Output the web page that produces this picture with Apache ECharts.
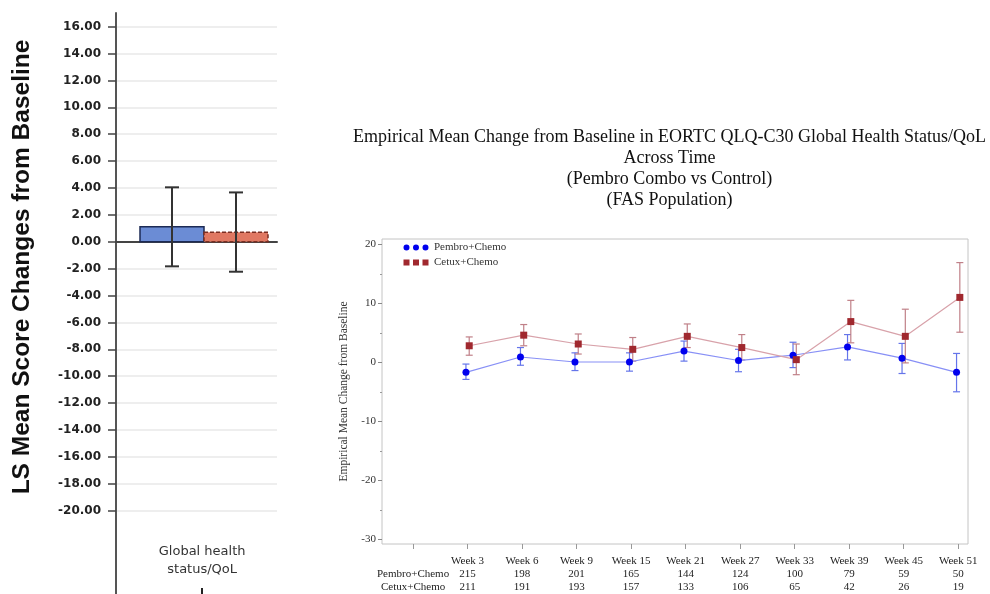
<!DOCTYPE html>
<html><head><meta charset="utf-8">
<script src="https://cdn.jsdelivr.net/npm/echarts@6/dist/echarts.min.js"></script>
<style>html,body{margin:0;padding:0;background:#fff}#c{width:990px;height:594px}</style>
</head><body><div id="c"></div>
<script>
// ---------- Left panel: LS mean change ----------
const lsCategory = 'Global health\nstatus/QoL';
const lsGroups = ['Pembro+Chemo', 'Cetux+Chemo'];
const lsMean = [1.12, 0.70];
const lsLower = [-1.83, -2.23];
const lsUpper = [4.05, 3.67];
const lsTicks = [16, 14, 12, 10, 8, 6, 4, 2, 0, -2, -4, -6, -8, -10, -12, -14, -16, -18, -20];

// ---------- Right panel: empirical mean change across time ----------
const weeks = ['Week 3', 'Week 6', 'Week 9', 'Week 15', 'Week 21', 'Week 27', 'Week 33', 'Week 39', 'Week 45', 'Week 51'];
const armNames = ['Pembro+Chemo', 'Cetux+Chemo'];
const pembroMean  = [-1.7, 0.9, 0.05, 0.05, 1.9, 0.3, 1.2, 2.6, 0.7, -1.7];
const pembroLower = [-2.9, -0.5, -1.4, -1.5, 0.2, -1.6, -0.9, 0.4, -1.9, -5.0];
const pembroUpper = [-0.3, 2.5, 1.6, 1.6, 3.6, 2.2, 3.4, 4.7, 3.2, 1.5];
const cetuxMean   = [2.8, 4.6, 3.1, 2.2, 4.4, 2.5, 0.45, 6.9, 4.4, 11.0];
const cetuxLower  = [1.2, 2.8, 1.4, 0.2, 2.5, 0.4, -2.1, 3.3, -0.1, 5.1];
const cetuxUpper  = [4.3, 6.4, 4.8, 4.2, 6.5, 4.7, 3.1, 10.5, 9.0, 16.9];
const pembroN = [215, 198, 201, 165, 144, 124, 100, 79, 59, 50];
const cetuxN  = [211, 191, 193, 157, 133, 106, 65, 42, 26, 19];
const rightYTicks = [20, 10, 0, -10, -20, -30];
const rightYMinor = [15, 5, -5, -15, -25];
const titleLines = [
  'Empirical Mean Change from Baseline in EORTC QLQ-C30 Global Health Status/QoL',
  'Across Time',
  '(Pembro Combo vs Control)',
  '(FAS Population)'
];

// ---------- build ----------
const BAR_CENTER = 0.5466;   // centre of the bar pair on the left x axis (0..1)
const BAR_W = 64;            // px
const LABEL_POS = 0.535;
const ARM_OFF = 0.03;        // small horizontal jitter between arms
const weekPos = weeks.map((w, i) => i + 1);
const tickPos = [0].concat(weekPos);

const lsData = lsMean.map((m, i) => [i, m, lsLower[i], lsUpper[i]]);
const barFill = ['#6b8cd5', '#e07862'];
const barStroke = ['#1c2a55', '#7a2e22'];

function errData(mean, lo, hi, off) {
  return mean.map((m, i) => [weekPos[i] + off, lo[i], hi[i]]);
}
function errRenderer(color) {
  return function (params, api) {
    const x = api.value(0);
    const p1 = api.coord([x, api.value(1)]);
    const p2 = api.coord([x, api.value(2)]);
    const w = 3.5;
    const st = { stroke: color, lineWidth: 1.2 };
    return { type: 'group', children: [
      { type: 'line', shape: { x1: p1[0], y1: p1[1], x2: p2[0], y2: p2[1] }, style: st },
      { type: 'line', shape: { x1: p1[0] - w, y1: p1[1], x2: p1[0] + w, y2: p1[1] }, style: st },
      { type: 'line', shape: { x1: p2[0] - w, y1: p2[1], x2: p2[0] + w, y2: p2[1] }, style: st }
    ]};
  };
}

const dotsIcon = 'path://M0.5,3.5a3,3 0 1,0 6,0a3,3 0 1,0 -6,0Z M10,3.5a3,3 0 1,0 6,0a3,3 0 1,0 -6,0Z M19.5,3.5a3,3 0 1,0 6,0a3,3 0 1,0 -6,0Z M0,0h0.01v7h-0.01Z M26,0h0.01v7h-0.01Z';
const squaresIcon = 'path://M0.5,0.5h6v6h-6Z M10,0.5h6v6h-6Z M19.5,0.5h6v6h-6Z M0,0h0.01v7h-0.01Z M26,0h0.01v7h-0.01Z';

const serif = 'Liberation Serif';

const chart = echarts.init(document.getElementById('c'));
chart.setOption({
  animation: false,
  backgroundColor: '#fff',
  title: {
    text: titleLines.join('\n'),
    left: 669.5, top: 127, textAlign: 'center', padding: 0,
    textStyle: { fontFamily: serif, fontSize: 18, fontWeight: 'normal', color: '#111', lineHeight: 21 }
  },
  legend: {
    orient: 'vertical', left: 403, top: 242, padding: 0, itemGap: 4,
    itemWidth: 26, itemHeight: 7,
    data: [{ name: armNames[0], icon: dotsIcon }, { name: armNames[1], icon: squaresIcon }],
    textStyle: { fontFamily: serif, fontSize: 11, color: '#333' }
  },
  grid: [
    { left: 116, top: 13, width: 161, height: 581 },
    { left: 382, top: 239, width: 586, height: 305, show: true, borderColor: '#c4c4c4', borderWidth: 1 }
  ],
  xAxis: [
    { gridIndex: 0, type: 'value', min: 0, max: 1, position: 'bottom',
      axisLine: { show: true, onZero: true, lineStyle: { color: '#444', width: 2 } },
      axisTick: { show: false }, axisLabel: { show: false }, splitLine: { show: false } },
    { gridIndex: 1, type: 'value', min: -0.57, max: 10.18, position: 'bottom',
      axisLine: { show: false, onZero: false }, splitLine: { show: false },
      axisTick: { show: true, customValues: tickPos, length: 5, lineStyle: { color: '#999' } },
      axisLabel: { customValues: tickPos, margin: 11, fontFamily: serif, fontSize: 11, lineHeight: 13, color: '#222',
        formatter: function (v) {
          const i = Math.round(v);
          if (i === 0) return '\n' + armNames[0] + '\n' + armNames[1];
          return weeks[i - 1] + '\n' + pembroN[i - 1] + '\n' + cetuxN[i - 1];
        } } },
    { gridIndex: 0, type: 'value', min: 0, max: 1, position: 'bottom',
      axisLine: { show: false, onZero: false }, splitLine: { show: false },
      axisTick: { show: true, inside: true, length: 6, customValues: [LABEL_POS], lineStyle: { color: '#222', width: 2 } },
      axisLabel: { inside: true, customValues: [LABEL_POS], margin: 15, lineHeight: 18,
        fontFamily: 'DejaVu Sans', fontSize: 13, color: '#333', formatter: function () { return lsCategory; } } }
  ],
  yAxis: [
    { gridIndex: 0, type: 'value', min: -26.21, max: 17.02,
      axisLine: { show: true, onZero: false, lineStyle: { color: '#555', width: 2 } },
      axisTick: { show: true, customValues: lsTicks, length: 8, lineStyle: { color: '#444', width: 1.5 } },
      axisLabel: { customValues: lsTicks, margin: 15, fontFamily: 'DejaVu Sans', fontWeight: 'bold', fontSize: 12, color: '#222',
        formatter: function (v) { return v.toFixed(2); } },
      splitLine: { show: true, lineStyle: { color: '#e8e8e8', width: 1.5 } },
      name: 'LS Mean Score Changes from Baseline', nameLocation: 'middle', nameGap: 81,
      nameTextStyle: { fontFamily: 'Liberation Sans', fontWeight: 'bold', fontSize: 24.5, color: '#111', padding: [0, 0, 0, 73] } },
    { gridIndex: 1, type: 'value', min: -30.8, max: 20.9, position: 'left',
      axisLine: { show: false, onZero: false }, splitLine: { show: false },
      axisTick: { show: true, customValues: rightYTicks, length: 4, lineStyle: { color: '#888' } },
      axisLabel: { customValues: rightYTicks, margin: 6, fontFamily: serif, fontSize: 11, color: '#333' },
      name: 'Empirical Mean Change from Baseline', nameLocation: 'middle', nameGap: 30,
      nameTextStyle: { fontFamily: serif, fontSize: 11.5, color: '#333' } },
    { gridIndex: 1, type: 'value', min: -30.8, max: 20.9, position: 'left',
      axisLine: { show: false, onZero: false }, splitLine: { show: false },
      axisTick: { show: true, customValues: rightYMinor, length: 2, lineStyle: { color: '#999' } },
      axisLabel: { show: false } }
  ],
  series: [
    { type: 'custom', name: 'LS', xAxisIndex: 0, yAxisIndex: 0, data: lsData, z: 3,
      encode: { x: 0, y: [1, 2, 3] },
      renderItem: function (params, api) {
        const i = api.value(0);
        const zero = api.coord([BAR_CENTER, 0]);
        const top = api.coord([BAR_CENTER, api.value(1)]);
        const lo = api.coord([BAR_CENTER, api.value(2)]);
        const hi = api.coord([BAR_CENTER, api.value(3)]);
        const x0 = zero[0] - BAR_W + i * BAR_W;
        const cx = x0 + BAR_W / 2;
        const cap = 7;
        const est = { stroke: '#333', lineWidth: 2 };
        return { type: 'group', children: [
          { type: 'rect', shape: { x: x0, y: Math.min(top[1], zero[1]), width: BAR_W, height: Math.abs(zero[1] - top[1]) },
            style: { fill: barFill[i], stroke: barStroke[i], lineWidth: 1.5, lineDash: i === 1 ? [4, 2] : null } },
          { type: 'line', shape: { x1: cx, y1: lo[1], x2: cx, y2: hi[1] }, style: est },
          { type: 'line', shape: { x1: cx - cap, y1: lo[1], x2: cx + cap, y2: lo[1] }, style: est },
          { type: 'line', shape: { x1: cx - cap, y1: hi[1], x2: cx + cap, y2: hi[1] }, style: est }
        ]};
      } },
    { type: 'custom', name: 'pembroErr', xAxisIndex: 1, yAxisIndex: 1, z: 2,
      data: errData(pembroMean, pembroLower, pembroUpper, -ARM_OFF), encode: { x: 0, y: [1, 2] },
      renderItem: errRenderer('#6575ea') },
    { type: 'custom', name: 'cetuxErr', xAxisIndex: 1, yAxisIndex: 1, z: 2,
      data: errData(cetuxMean, cetuxLower, cetuxUpper, ARM_OFF), encode: { x: 0, y: [1, 2] },
      renderItem: errRenderer('#c08088') },
    { type: 'line', name: armNames[0], xAxisIndex: 1, yAxisIndex: 1, z: 4,
      data: pembroMean.map((v, i) => [weekPos[i] - ARM_OFF, v]),
      symbol: 'circle', symbolSize: 7, itemStyle: { color: '#0000ee' },
      lineStyle: { color: '#8890f6', width: 1.2 } },
    { type: 'line', name: armNames[1], xAxisIndex: 1, yAxisIndex: 1, z: 4,
      data: cetuxMean.map((v, i) => [weekPos[i] + ARM_OFF, v]),
      symbol: 'rect', symbolSize: 7, itemStyle: { color: '#a0282e' },
      lineStyle: { color: '#d8a2aa', width: 1.2 } }
  ]
});
</script>
</body></html>
